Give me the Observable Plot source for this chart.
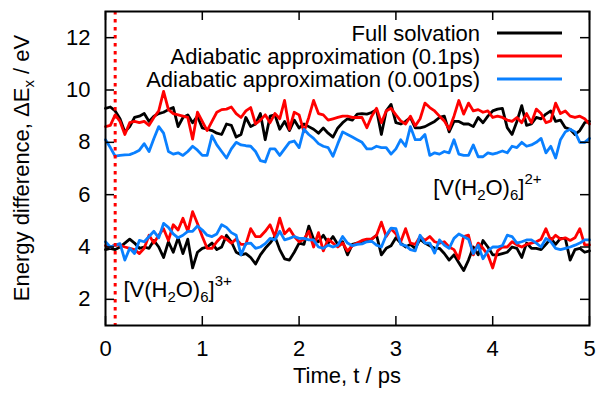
<!DOCTYPE html>
<html><head><meta charset="utf-8">
<script src="https://cdn.jsdelivr.net/npm/d3@7"></script>
<script src="https://cdn.jsdelivr.net/npm/@observablehq/plot@0.6"></script>
<style>body{margin:0;background:#fff} svg{display:block}</style>
</head><body><div id="chart"></div>
<script>
const time = [0,0.05,0.1,0.15,0.2,0.25,0.3,0.35,0.4,0.45,0.5,0.55,0.6,0.65,0.7,0.75,0.8,0.85,0.9,0.95,
1,1.05,1.1,1.15,1.2,1.25,1.3,1.35,1.4,1.45,1.5,1.55,1.6,1.65,1.7,1.75,1.8,1.85,1.9,1.95,
2,2.05,2.1,2.15,2.2,2.25,2.3,2.35,2.4,2.45,2.5,2.55,2.6,2.65,2.7,2.75,2.8,2.85,2.9,2.95,
3,3.05,3.1,3.15,3.2,3.25,3.3,3.35,3.4,3.45,3.5,3.55,3.6,3.65,3.7,3.75,3.8,3.85,3.9,3.95,
4,4.05,4.1,4.15,4.2,4.25,4.3,4.35,4.4,4.45,4.5,4.55,4.6,4.65,4.7,4.75,4.8,4.85,4.9,4.95,5];

const seriesNames = ["Full solvation", "Adiabatic approximation (0.1ps)", "Adiabatic approximation (0.001ps)"];
const seriesColors = ["#000000", "#ff0000", "#0a80ff"];

// [V(H2O)6]2+ band
const upperFull = [9.3,9.35,9.2,8.9,8.4,8.6,8.95,9.0,9.1,8.8,9.0,9.1,9.15,9.25,9.33,8.6,8.95,9.05,8.75,9.0,8.55,8.5,8.45,8.35,8.3,
8.7,8.65,8.2,8.3,8.95,8.6,8.7,9.1,8.1,9.0,9.05,8.5,8.8,8.45,8.85,8.55,8.7,8.6,8.5,8.35,8.55,8.35,8.2,8.55,8.75,
8.9,8.85,9.08,9.1,9.08,9.14,9.25,8.3,9.2,9.45,8.75,8.7,8.8,8.95,8.55,8.55,8.6,8.7,8.8,8.95,9.0,8.4,8.8,8.8,8.7,
8.7,8.6,8.95,8.75,9.0,9.2,9.27,9.3,8.56,8.3,8.8,9.4,8.65,8.7,8.95,8.9,9.08,9.2,8.8,8.85,8.56,8.5,8.3,8.45,8.75,8.8];
const upperAd01 = [8.6,8.65,9.05,8.8,8.3,8.75,8.8,8.75,8.8,8.65,8.95,9.2,9.95,9.25,9.1,9.05,9.0,8.95,8.12,9.15,8.8,8.45,8.8,9.15,9.25,
9.27,9.35,9.1,8.95,9.2,9.33,8.7,8.85,9.05,8.75,9.1,8.9,9.6,8.5,9.15,9.05,8.4,8.95,9.6,9.1,9.05,8.85,8.9,8.95,9.0,
9.0,8.95,8.95,8.95,8.56,9.0,9.3,8.75,9.2,9.3,9.05,8.82,8.7,9.0,8.63,8.9,9.5,9.33,9.2,9.0,8.82,8.5,9.0,9.6,9.08,
9.5,9.2,9.25,9.15,9.2,8.95,9.0,8.95,8.85,8.8,8.95,8.75,9.1,8.75,9.27,9.1,8.75,8.82,9.5,9.1,9.2,9.0,8.95,9.0,8.9,8.7];
const upperAd0001 = [8.1,7.8,7.47,7.5,7.52,7.53,7.6,7.7,7.95,7.65,8.15,8.6,8.35,7.65,7.55,7.6,7.5,7.65,7.85,7.7,7.5,7.5,8.25,7.9,7.65,
7.4,7.75,8.0,7.9,7.87,7.85,7.65,7.3,7.25,7.75,7.75,7.5,7.75,8.0,8.05,7.8,8.5,8.3,8.15,7.95,7.85,7.8,7.47,7.95,8.4,
8.3,8.2,8.1,8.0,7.75,7.75,7.85,7.8,7.8,7.55,7.75,8.1,7.85,8.6,8.1,8.1,8.3,7.5,7.6,7.55,7.65,7.6,8.1,7.55,7.5,
7.5,7.9,7.45,7.45,7.6,7.55,7.6,7.67,7.6,7.85,7.8,8.0,7.85,7.9,8.0,8.15,7.6,7.85,7.4,8.1,8.4,8.5,8.4,8.0,8.0,8.15];

// [V(H2O)6]3+ band
const lowerFull = [3.9,3.95,3.9,4.0,4.15,4.3,4.15,3.95,4.0,3.95,4.25,4.0,3.6,4.2,3.8,4.35,3.75,4.3,3.2,3.8,3.95,4.0,4.15,3.9,4.0,
4.45,4.2,3.8,3.7,3.75,3.6,3.35,3.7,3.95,4.15,4.4,3.9,3.55,3.5,3.8,4.15,4.1,4.8,4.3,4.2,4.45,4.15,4.4,4.1,4.2,
3.7,4.1,4.15,4.15,4.25,4.3,4.45,3.7,3.95,4.05,4.35,4.15,4.0,4.1,3.95,4.3,4.15,4.05,3.95,3.95,3.75,3.5,3.7,3.4,3.1,
3.5,4.0,3.7,4.25,4.0,3.7,3.7,3.75,3.8,4.0,3.95,3.6,4.15,3.95,3.95,3.9,4.1,4.33,4.1,4.33,4.33,3.5,3.9,3.95,3.8,3.85];
const lowerAd01 = [4.05,4.0,4.07,4.07,4.0,3.95,3.9,3.75,3.95,4.45,4.15,4.45,4.7,4.25,4.85,4.65,5.1,4.6,5.35,4.9,4.4,3.95,3.95,4.2,4.4,
4.3,4.15,4.3,4.1,4.1,4.7,4.4,4.4,4.6,4.85,4.4,5.1,4.5,4.7,4.4,4.2,4.3,4.6,4.0,4.55,3.85,4.3,4.15,4.0,4.15,
3.85,4.05,4.15,4.25,4.3,4.3,4.45,4.95,4.4,4.7,4.5,4.2,4.7,4.15,4.1,4.4,4.25,4.4,4.2,4.15,4.2,4.0,3.9,3.55,4.4,
4.45,3.7,4.15,3.95,3.7,3.2,3.85,4.0,4.0,4.2,4.08,4.0,4.1,4.15,4.2,4.3,4.7,4.25,4.45,4.3,4.35,4.25,4.35,4.7,4.08,4.08];
const lowerAd0001 = [4.2,4.0,4.07,4.13,3.5,3.95,3.75,4.25,4.2,4.4,4.6,4.35,4.9,4.75,4.5,4.35,4.45,4.6,4.6,4.8,4.65,4.45,4.4,4.5,4.85,
4.75,4.55,4.45,3.7,4.13,4.15,3.95,4.0,4.13,4.33,4.27,4.6,4.27,4.33,4.4,4.33,4.33,4.27,4.27,4.0,3.95,4.07,4.0,4.07,4.4,
4.15,4.05,4.1,4.12,4.2,4.22,4.07,4.0,4.45,4.72,4.7,4.1,4.05,3.9,3.85,4.45,4.15,4.15,3.77,4.27,4.07,3.95,4.33,4.5,4.4,
4.3,3.75,4.07,3.55,3.85,4.0,4.0,4.05,4.45,4.4,4.15,4.2,4.27,4.27,4.15,4.0,4.33,4.2,3.95,3.9,3.95,4.0,4.07,4.15,4.27,4.27];

const xTicks = [0, 1, 2, 3, 4, 5];
const yTicks = [2, 4, 6, 8, 10, 12];
const cutoffTime = [0.1];
const ionCharges = ["2+", "3+"];
const ionAnchorT = [3.39, 0.19];
const ionAnchorE = [5.95, 2.08];

const W = 599, H = 394, mL = 105, mR = 10, mT = 11, mB = 69;
const fw = W - mL - mR, fh = H - mT - mB;
const FONT = "'Liberation Sans', Arial, Helvetica, sans-serif";

const rows = [];
[[upperFull, lowerFull], [upperAd01, lowerAd01], [upperAd0001, lowerAd0001]].forEach(([u, l], i) => {
  time.forEach((t, j) => rows.push({t, v: u[j], s: seriesNames[i], band: "u" + i}));
  time.forEach((t, j) => rows.push({t, v: l[j], s: seriesNames[i], band: "l" + i}));
});

const plot = Plot.plot({
  width: W, height: H,
  marginLeft: mL, marginRight: mR, marginTop: mT, marginBottom: mB,
  style: {fontFamily: FONT, fontSize: "22px", color: "#000", background: "#fff"},
  x: {domain: [0, 5]},
  y: {domain: [1, 13]},
  color: {domain: seriesNames, range: seriesColors},
  marks: [
    Plot.line(rows, {x: "t", y: "v", z: "band", stroke: "s", strokeWidth: 2.8}),
    Plot.ruleX(cutoffTime, {stroke: "#ff0000", strokeWidth: 3, strokeDasharray: "3.5,4.5"}),
    Plot.tickX(xTicks, {x: d => d, insetTop: fh - 9, stroke: "#000", strokeWidth: 1.5}),
    Plot.tickX(xTicks, {x: d => d, insetBottom: fh - 9, stroke: "#000", strokeWidth: 1.5}),
    Plot.tickY(yTicks, {y: d => d, insetRight: fw - 9, stroke: "#000", strokeWidth: 1.5}),
    Plot.tickY(yTicks, {y: d => d, insetLeft: fw - 9, stroke: "#000", strokeWidth: 1.5}),
    Plot.axisX({ticks: xTicks, tickSize: 0, tickPadding: 15, label: null, tickFormat: d => String(d)}),
    Plot.axisY({ticks: yTicks, tickSize: 0, tickPadding: 15, label: null, tickFormat: d => String(d)}),
    Plot.frame({stroke: "#000", strokeWidth: 2})
  ]
});
document.getElementById("chart").appendChild(plot);

const svg = d3.select(plot);
const sx = plot.scale("x"), sy = plot.scale("y");

// Legend
const lg = svg.append("g").attr("font-family", FONT).attr("font-size", 22);
seriesNames.forEach((n, i) => {
  const yy = 33 + i * 23;
  lg.append("text").attr("x", 480).attr("y", yy).attr("dy", "0.35em")
    .attr("text-anchor", "end").attr("fill", "#000").text(n);
  lg.append("line").attr("x1", 497).attr("x2", 562).attr("y1", yy).attr("y2", yy)
    .attr("stroke", seriesColors[i]).attr("stroke-width", 3);
});

// Ion labels
ionCharges.forEach((c, i) => {
  const t = svg.append("text").attr("font-family", FONT).attr("font-size", 22).attr("fill", "#000")
    .attr("text-anchor", "start")
    .attr("x", sx.apply(ionAnchorT[i])).attr("y", sy.apply(ionAnchorE[i]));
  t.append("tspan").text("[V(H");
  t.append("tspan").attr("font-size", 15).attr("dy", 5).text("2");
  t.append("tspan").attr("dy", -5).text("O)");
  t.append("tspan").attr("font-size", 15).attr("dy", 5).text("6");
  t.append("tspan").attr("dy", -5).text("]");
  t.append("tspan").attr("font-size", 15).attr("dy", -11).text(c);
});

// Axis titles
svg.append("text").attr("font-family", FONT).attr("font-size", 22).attr("fill", "#000")
  .attr("x", mL + fw / 2).attr("y", 383).attr("text-anchor", "middle").text("Time, t / ps");
const yl = svg.append("text").attr("font-family", FONT).attr("font-size", 22).attr("fill", "#000")
  .attr("transform", `translate(29,${mT + fh / 2}) rotate(-90)`).attr("text-anchor", "middle");
yl.append("tspan").text("Energy difference, ΔE");
yl.append("tspan").attr("font-size", 15).attr("dy", 5).text("x");
yl.append("tspan").attr("dy", -5).text(" / eV");
</script>
</body></html>
